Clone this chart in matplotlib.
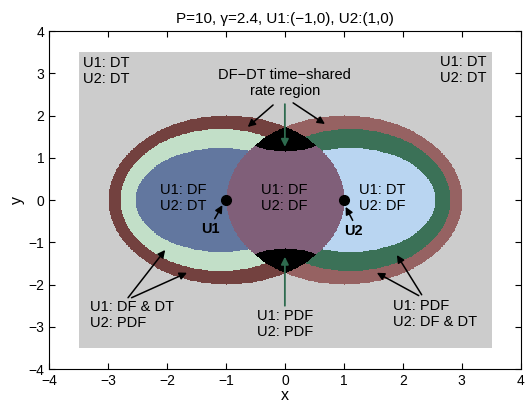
import numpy as np
import matplotlib
matplotlib.use("Agg")
import matplotlib.pyplot as plt
from matplotlib.colors import ListedColormap

plt.rcParams['font.family'] = ['Liberation Sans', 'DejaVu Sans']

# user positions
users_x = [-1.0, 1.0]
users_y = [0.0, 0.0]

# region boundaries (left user; right side is the mirror image)
outer_r = 2.0                  # DT boundary circle around each user
green_c, green_a, green_b = -1.1, 1.70, 1.68
blue_c, blue_a, blue_b = -1.1, 1.45, 1.23
cut_c, cut_r = 2.25, 1.1       # time-shared cap inside the lens
box = 3.5

colors = ['#cccccc', '#73413f', '#966262', '#c2dfc8', '#3b7157',
          '#62779f', '#b9d5f1', '#805f79', '#000000']

n = 421
g = np.linspace(-box, box, n)
X, Y = np.meshgrid(g, g)

def ell(cx, a, b):
    return ((X - cx) / a) ** 2 + (Y / b) ** 2 <= 1

reg = np.zeros_like(X)
in1 = (X - users_x[0]) ** 2 + Y ** 2 <= outer_r ** 2
in2 = (X - users_x[1]) ** 2 + Y ** 2 <= outer_r ** 2
reg[in1] = 1
reg[in2] = 2
reg[ell(green_c, green_a, green_b)] = 3
reg[ell(-green_c, green_a, green_b)] = 4
reg[ell(blue_c, blue_a, blue_b)] = 5
reg[ell(-blue_c, blue_a, blue_b)] = 6
lens = in1 & in2
reg[lens] = 7
cap = (X ** 2 + (np.abs(Y) - cut_c) ** 2) <= cut_r ** 2
reg[lens & cap] = 8

fig = plt.figure(figsize=(5.3, 4.03), dpi=100)
ax = fig.add_axes([0.0925, 0.084, 0.890, 0.839])
ax.imshow(reg, cmap=ListedColormap(colors), vmin=-0.5, vmax=8.5,
          extent=[-box, box, -box, box], origin='lower', interpolation='nearest')
ax.plot(users_x, users_y, 'ko', ms=7)

fs = 10.5
ax.text(-3.42, 3.05, 'U1: DT\nU2: DT', fontsize=fs, va='center', ha='left')
ax.text(3.42, 3.07, 'U1: DT\nU2: DT', fontsize=fs, va='center', ha='right')
ax.text(0.0, 2.77, 'DF\u2212DT time\u2212shared\nrate region', fontsize=fs,
        va='center', ha='center', linespacing=1.15)
ax.text(-2.12, 0.05, 'U1: DF\nU2: DT', fontsize=fs, va='center', ha='left')
ax.text(-0.41, 0.05, 'U1: DF\nU2: DF', fontsize=fs, va='center', ha='left')
ax.text(1.25, 0.05, 'U1: DT\nU2: DF', fontsize=fs, va='center', ha='left')
ax.text(-3.31, -2.72, 'U1: DF & DT\nU2: PDF', fontsize=fs, va='center', ha='left')
ax.text(0.0, -2.94, 'U1: PDF\nU2: PDF', fontsize=fs, va='center', ha='center')
ax.text(1.83, -2.69, 'U1: PDF\nU2: DF & DT', fontsize=fs, va='center', ha='left')
ax.text(-1.27, -0.68, 'U1', fontsize=fs, fontweight='bold', ha='center', va='center')
ax.text(1.17, -0.74, 'U2', fontsize=fs, fontweight='bold', ha='center', va='center')

# arrows: (tail, head)
black_arrows = [((-0.2, 2.25), (-0.63, 1.73)), ((0.14, 2.3), (0.68, 1.8)),
                ((-2.66, -2.31), (-2.03, -1.18)), ((-2.6, -2.31), (-1.66, -1.72)),
                ((2.32, -2.24), (1.9, -1.3)), ((2.27, -2.26), (1.56, -1.72)),
                ((-1.19, -0.44), (-1.06, -0.12)), ((1.15, -0.48), (1.03, -0.16))]
for tail, head in black_arrows:
    ax.annotate('', xy=head, xytext=tail,
                arrowprops=dict(arrowstyle='-|>', color='k', lw=1.1,
                                mutation_scale=11, shrinkA=0, shrinkB=0))
for tail, head in [((0.0, 2.27), (0.0, 1.26)), ((0.0, -2.5), (0.0, -1.34))]:
    ax.annotate('', xy=head, xytext=tail,
                arrowprops=dict(arrowstyle='-|>', color='#2e6b4f', lw=1.3,
                                mutation_scale=11, shrinkA=0, shrinkB=0))

ax.set_xlim(-4, 4)
ax.set_ylim(-4, 4)
ax.set_aspect('auto')
ticks = np.arange(-4, 5)
ax.set_xticks(ticks)
ax.set_yticks(ticks)
ax.set_xticklabels([str(t).replace('-', '\u2212') for t in ticks])
ax.set_yticklabels([str(t).replace('-', '\u2212') for t in ticks])
ax.tick_params(direction='in', top=True, right=True, labelsize=10, length=4)
ax.set_xlabel('x', fontsize=11.5, labelpad=0)
ax.set_ylabel('y', fontsize=11.5, labelpad=2)
ax.set_title('P=10, \u03b3=2.4, U1:(\u22121,0), U2:(1,0)', fontsize=11, pad=6)

fig.savefig('out.png', dpi=100)
